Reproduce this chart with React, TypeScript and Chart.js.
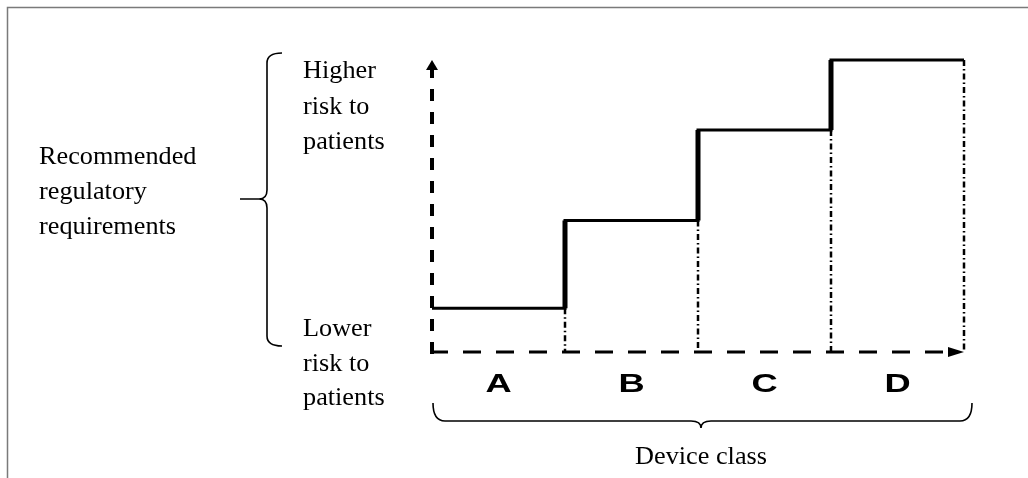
import React, { useEffect, useRef } from "react";
import { Chart, registerables } from "chart.js";
Chart.register(...registerables);

// ---- data ----
const classes = ["A", "B", "C", "D"];
const classStart = [0, 1, 2, 3];
const classEnd = [1, 2, 3, 4];
const riskLevel = [15, 45, 76, 100];
const yMin = 0;
const yMax = 100;
const higherLabel = ["Higher", "risk to", "patients"];
const lowerLabel = ["Lower", "risk to", "patients"];
const requirementLabel = ["Recommended", "regulatory", "requirements"];
const xTitle = "Device class";

const SERIF = '"Liberation Serif", "Times New Roman", serif';
const SANS = '"Liberation Sans", Arial, sans-serif';

function stretchText(ctx: CanvasRenderingContext2D, text: string, x: number, y: number, sx: number, align: CanvasTextAlign) {
  ctx.save();
  ctx.translate(x, y);
  ctx.scale(sx, 1);
  ctx.textAlign = align;
  ctx.textBaseline = "alphabetic";
  ctx.fillText(text, 0, 0);
  ctx.restore();
}

const decorPlugin = {
  id: "decor",
  beforeDraw(chart: any) {
    const ctx = chart.ctx as CanvasRenderingContext2D;
    ctx.save();
    ctx.fillStyle = "#fff";
    ctx.fillRect(0, 0, chart.width, chart.height);
    ctx.strokeStyle = "#7a7a7a";
    ctx.lineWidth = 1.5;
    ctx.beginPath();
    ctx.moveTo(7.5, chart.height);
    ctx.lineTo(7.5, 7.5);
    ctx.lineTo(chart.width, 7.5);
    ctx.stroke();
    ctx.restore();
  },
  afterDatasetsDraw(chart: any) {
    const ctx = chart.ctx as CanvasRenderingContext2D;
    const xs = chart.scales.x;
    const ys = chart.scales.y;
    const x0 = xs.getPixelForValue(classStart[0]);
    const x1 = xs.getPixelForValue(classEnd[classEnd.length - 1]);
    const y0 = ys.getPixelForValue(yMin);
    const yTop = ys.getPixelForValue(yMax);
    ctx.save();
    ctx.strokeStyle = "#000";
    ctx.fillStyle = "#000";
    ctx.lineCap = "butt";

    // y axis dashed with arrow
    ctx.lineWidth = 4;
    ctx.setLineDash([12, 11]);
    ctx.beginPath();
    ctx.moveTo(x0, y0 + 2);
    ctx.lineTo(x0, yTop + 9);
    ctx.stroke();
    ctx.setLineDash([]);
    ctx.beginPath();
    ctx.moveTo(x0, yTop);
    ctx.lineTo(x0 - 6, yTop + 10);
    ctx.lineTo(x0 + 6, yTop + 10);
    ctx.closePath();
    ctx.fill();

    // x axis dashed with arrow
    ctx.lineWidth = 3;
    ctx.setLineDash([18, 15]);
    ctx.beginPath();
    ctx.moveTo(x0 - 2, y0);
    ctx.lineTo(x1 - 14, y0);
    ctx.stroke();
    ctx.setLineDash([]);
    ctx.beginPath();
    ctx.moveTo(x1, y0);
    ctx.lineTo(x1 - 16, y0 - 5);
    ctx.lineTo(x1 - 16, y0 + 5);
    ctx.closePath();
    ctx.fill();

    // class letters
    ctx.font = `bold 25px ${SANS}`;
    classes.forEach((c, i) => {
      const cx = xs.getPixelForValue((classStart[i] + classEnd[i]) / 2);
      stretchText(ctx, c, cx, y0 + 40, 1.45, "center");
    });

    // bottom brace
    const bY = y0 + 69;
    const mid = (x0 + x1) / 2 + 3;
    const bL = x0 + 1;
    const bR = x1 + 8;
    ctx.lineWidth = 1.6;
    ctx.beginPath();
    ctx.moveTo(bL, bY - 18);
    ctx.quadraticCurveTo(bL, bY, bL + 12, bY);
    ctx.lineTo(mid - 10, bY);
    ctx.quadraticCurveTo(mid, bY, mid, bY + 7);
    ctx.quadraticCurveTo(mid, bY, mid + 10, bY);
    ctx.lineTo(bR - 12, bY);
    ctx.quadraticCurveTo(bR, bY, bR, bY - 18);
    ctx.stroke();

    // left brace
    const lx = 267;
    const lTop = 53;
    const lBot = 346;
    const lMid = 199;
    ctx.beginPath();
    ctx.moveTo(282, lTop);
    ctx.quadraticCurveTo(lx, lTop, lx, lTop + 10);
    ctx.lineTo(lx, lMid - 9);
    ctx.quadraticCurveTo(lx, lMid, lx - 8, lMid);
    ctx.lineTo(240, lMid);
    ctx.moveTo(lx - 8, lMid);
    ctx.quadraticCurveTo(lx, lMid, lx, lMid + 9);
    ctx.lineTo(lx, lBot - 10);
    ctx.quadraticCurveTo(lx, lBot, 282, lBot);
    ctx.stroke();

    // serif texts
    ctx.font = `25px ${SERIF}`;
    const sx = 1.05;
    higherLabel.forEach((t, i) => stretchText(ctx, t, 303, 78 + i * 35.5, sx, "left"));
    lowerLabel.forEach((t, i) => stretchText(ctx, t, 303, 336 + i * 34.5, sx, "left"));
    requirementLabel.forEach((t, i) => stretchText(ctx, t, 39, 164 + i * 35, sx, "left"));
    stretchText(ctx, xTitle, mid, 464, sx, "center");
    ctx.restore();
  },
};

export default function App() {
  const ref = useRef<HTMLCanvasElement | null>(null);
  useEffect(() => {
    if (!ref.current) return;
    const last = riskLevel.length - 1;
    const stepData = classStart
      .map((x, i) => ({ x, y: riskLevel[i] }))
      .concat([{ x: classEnd[last], y: riskLevel[last] }]);
    const riserData: any[] = [];
    for (let i = 1; i < classStart.length; i++) {
      riserData.push({ x: classStart[i], y: riskLevel[i - 1] });
      riserData.push({ x: classStart[i], y: riskLevel[i] });
      riserData.push({ x: classStart[i], y: null });
    }
    const dividerData: any[] = [];
    classEnd.forEach((x, i) => {
      dividerData.push({ x, y: riskLevel[i] });
      dividerData.push({ x, y: yMin });
      dividerData.push({ x, y: null });
    });
    const chart = new Chart(ref.current, {
      type: "line",
      data: {
        datasets: [
          {
            label: "risers",
            data: riserData,
            borderColor: "#000",
            borderWidth: 5,
            pointRadius: 0,
            spanGaps: false,
            clip: false,
          } as any,
          {
            label: "risk",
            data: stepData,
            stepped: "before",
            borderColor: "#000",
            borderWidth: 3,
            pointRadius: 0,
            clip: false,
          } as any,
          {
            label: "dividers",
            data: dividerData,
            borderColor: "#000",
            borderWidth: 2.5,
            borderDash: [6, 3, 1.5, 3],
            pointRadius: 0,
            spanGaps: false,
            clip: false,
          } as any,
        ],
      },
      options: {
        responsive: false,
        maintainAspectRatio: false,
        animation: false,
        layout: { padding: { left: 432, right: 64, top: 60, bottom: 126 } },
        scales: {
          x: { type: "linear", min: classStart[0], max: classEnd[classEnd.length - 1], display: false },
          y: { type: "linear", min: yMin, max: yMax, display: false },
        },
        plugins: { legend: { display: false }, tooltip: { enabled: false } },
        events: [],
      } as any,
      plugins: [decorPlugin],
    });
    return () => chart.destroy();
  }, []);
  return (
    <div style={{ position: "absolute", left: 0, top: 0, width: 1028, height: 478 }}>
      <canvas ref={ref} width={1028} height={478} style={{ display: "block", width: 1028, height: 478 }} />
    </div>
  );
}
